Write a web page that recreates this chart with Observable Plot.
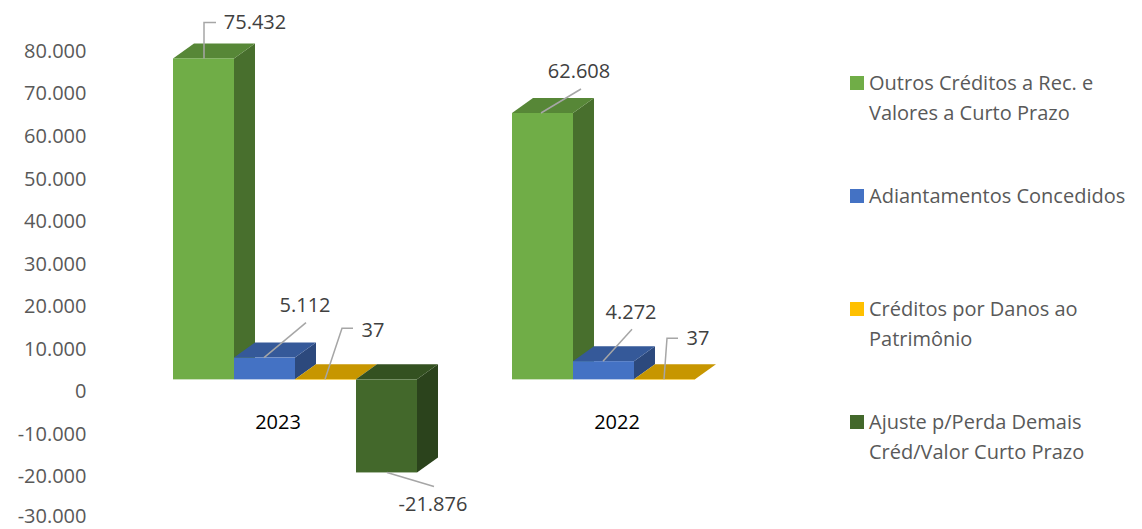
<!DOCTYPE html>
<html>
<head>
<meta charset="utf-8">
<script src="https://cdn.jsdelivr.net/npm/d3@7"></script>
<script src="https://cdn.jsdelivr.net/npm/@observablehq/plot@0.6"></script>
<style>
  html, body { margin: 0; padding: 0; background: #fff; }
  #wrap { position: relative; width: 1142px; height: 529px; font-family: "Open Sans", sans-serif; overflow: hidden; }
  #chart { position: absolute; left: 0; top: 0; }
  #legend { position: absolute; left: 850px; top: 0; }
  .item { position: absolute; left: 0; display: flex; align-items: flex-start; }
  .sw { width: 14px; height: 14px; margin-top: 8px; margin-right: 5px; flex: none; }
  .lbl { font-size: 20px; line-height: 30px; color: #595959; white-space: nowrap; }
</style>
</head>
<body>
<div id="wrap"><div id="chart"></div><div id="legend"></div></div>
<script>
// ---------- data ----------
const years = ["2023", "2022"];
const series = [
  "Outros Créditos a Rec. e Valores a Curto Prazo",
  "Adiantamentos Concedidos",
  "Créditos por Danos ao Patrimônio",
  "Ajuste p/Perda Demais Créd/Valor Curto Prazo"
];
const legendLines = [
  ["Outros Créditos a Rec. e", "Valores a Curto Prazo"],
  ["Adiantamentos Concedidos"],
  ["Créditos por Danos ao", "Patrimônio"],
  ["Ajuste p/Perda Demais", "Créd/Valor Curto Prazo"]
];
const values2023 = [75432, 5112, 37, -21876];
const values2022 = [62608, 4272, 37, null];
const yTicks = [-30000, -20000, -10000, 0, 10000, 20000, 30000, 40000, 50000, 60000, 70000, 80000];

// ---------- style ----------
const colors = ["#70AD47", "#4472C4", "#FFC000", "#43682B"];
const FRONT_DY = -12;   // front face shift (3D perspective)
const DEPTH_X = 21, DEPTH_Y = 15;
// leader-line and label placement relative to the bar's value end (front-left corner)
const labelLayout = {
  "2023": [
    {path: [[31, 0], [31, -36], [43, -36]], text: [82, -36]},
    {path: [[30, 0], [72, -35]], text: [71, -53]},
    {path: [[30, 0], [47, -51], [58, -51]], text: [78, -49]},
    {path: [[31, 0], [78, 14]], text: [77, 32]}
  ],
  "2022": [
    {path: [[29, 0], [69, -24]], text: [67, -42]},
    {path: [[30, 0], [59, -32]], text: [58, -49]},
    {path: [[30, 0], [33, -41], [44, -41]], text: [64, -41]},
    null
  ]
};

const locale = d3.formatLocale({decimal: ",", thousands: ".", grouping: [3], currency: ["R$", ""], minus: "-"});
const fmt = locale.format(",d");

const data = years.flatMap((year, yi) =>
  (yi === 0 ? values2023 : values2022).map((value, si) => ({year, series: series[si], si, value}))
).filter(d => d.value != null);

function bars3d(index, scales) {
  const g = d3.create("svg:g");
  const bw = scales.x.bandwidth();
  for (const i of index) {
    const d = data[i];
    const x0 = scales.x(d.series), x1 = x0 + bw;
    const ya = Math.min(scales.y(0), scales.y(d.value)) + FRONT_DY;
    const yb = Math.max(scales.y(0), scales.y(d.value)) + FRONT_DY;
    const c = d3.color(colors[d.si]);
    const top = c.darker(0.7).formatHex(), side = c.darker(1.25).formatHex();
    g.append("polygon")
      .attr("points", [[x1, ya], [x1 + DEPTH_X, ya - DEPTH_Y], [x1 + DEPTH_X, yb - DEPTH_Y], [x1, yb]].join(" "))
      .attr("fill", side);
    g.append("polygon")
      .attr("points", [[x0, ya], [x1, ya], [x1 + DEPTH_X, ya - DEPTH_Y], [x0 + DEPTH_X, ya - DEPTH_Y]].join(" "))
      .attr("fill", top);
    g.append("rect")
      .attr("x", x0).attr("y", ya).attr("width", bw).attr("height", Math.max(0.5, yb - ya))
      .attr("fill", colors[d.si]);
  }
  return g.node();
}

function labels3d(index, scales) {
  const g = d3.create("svg:g");
  for (const i of index) {
    const d = data[i];
    const L = labelLayout[d.year][d.si];
    if (!L) continue;
    const x0 = scales.x(d.series);
    const yv = scales.y(d.value) + FRONT_DY;
    g.append("path")
      .attr("d", d3.line()(L.path.map(([dx, dy]) => [x0 + dx, yv + dy])))
      .attr("fill", "none").attr("stroke", "#A6A6A6").attr("stroke-width", 1.5);
    g.append("text")
      .attr("x", x0 + L.text[0]).attr("y", yv + L.text[1]).attr("dy", "0.35em")
      .attr("text-anchor", "middle").attr("fill", "#404040").attr("font-size", 20)
      .text(fmt(d.value));
  }
  return g.node();
}

const chart = Plot.plot({
  width: 840,
  height: 529,
  marginLeft: 95,
  marginRight: 7,
  marginTop: 51,
  marginBottom: 10,
  style: {fontFamily: "Open Sans, sans-serif", fontSize: "20px", color: "#595959", background: "transparent", overflow: "visible"},
  fx: {domain: years, paddingInner: 92 / 340, paddingOuter: 75 / 340, axis: null, label: null},
  x: {domain: series, padding: 0, axis: null},
  y: {domain: [-30000, 80000], axis: null},
  marks: [
    Plot.axisY({ticks: yTicks.slice(1), tickFormat: fmt, tickSize: 0, tickPadding: 85, fontSize: 20, label: null}),
    Plot.axisY({ticks: yTicks.slice(0, 1), tickFormat: fmt, tickSize: 0, tickPadding: 85, fontSize: 20, label: null, dy: -3}),
    Plot.barY(data, {fx: "year", x: "series", y: "value", fill: d => colors[d.si], render: (index, scales) => bars3d(index, scales)}),
    Plot.barY(data, {fx: "year", x: "series", y: "value", fill: "none", render: (index, scales) => labels3d(index, scales)}),
    Plot.text(years, {fx: d => d, y: () => 0, text: d => d, dx: -17, dy: 31, fill: "#000", fontSize: 20})
  ]
});
document.getElementById("chart").appendChild(chart);

// legend
const legend = d3.select("#legend");
legendLines.forEach((lines, i) => {
  const item = legend.append("div").attr("class", "item").style("top", (68 + 113 * i) + "px");
  item.append("div").attr("class", "sw").style("background", colors[i]);
  item.append("div").attr("class", "lbl").html(lines.join("<br>"));
});
</script>
</body>
</html>
